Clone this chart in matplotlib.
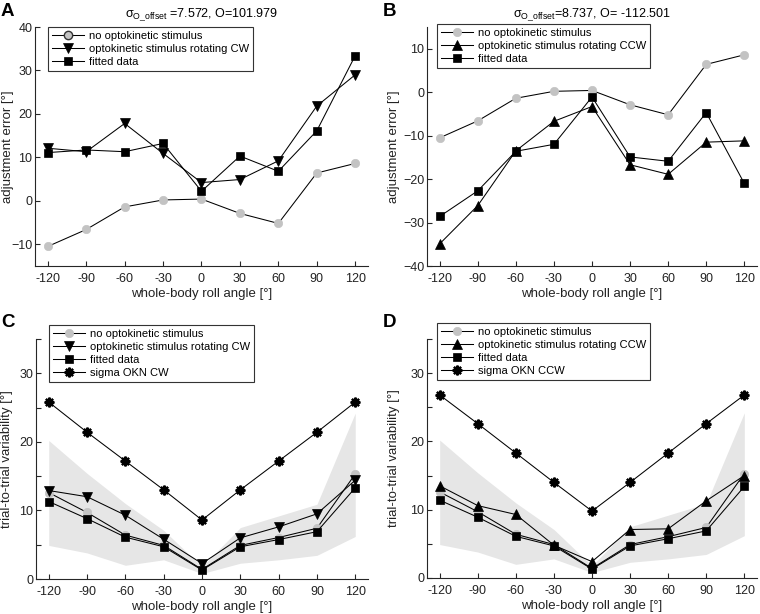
import matplotlib
matplotlib.use("Agg")
import matplotlib.pyplot as plt
from matplotlib.lines import Line2D

plt.rcParams['font.family'] = ['Liberation Sans', 'DejaVu Sans']
plt.rcParams['mathtext.fontset'] = 'custom'
plt.rcParams['mathtext.rm'] = 'Liberation Sans'
plt.rcParams['mathtext.it'] = 'Liberation Sans'

# ---------------- data ----------------
angles = [-120, -90, -60, -30, 0, 30, 60, 90, 120]

# panel A / B : adjustment error
no_okn_err = [-10.5, -6.6, -1.4, 0.2, 0.4, -2.9, -5.2, 6.4, 8.6]
cw_err = [12.1, 11.3, 17.8, 10.9, 4.2, 4.9, 9.2, 21.8, 29.0]
cw_fit_err = [11.1, 11.7, 11.3, 13.2, 2.2, 10.3, 6.8, 16.1, 33.4]
ccw_err = [-34.9, -26.1, -13.5, -6.7, -3.3, -16.7, -18.9, -11.5, -11.2]
ccw_fit_err = [-28.6, -22.7, -13.6, -12.0, -1.1, -14.9, -15.9, -4.7, -21.0]

title_a = r'$\sigma_{\mathrm{O\_offset}}$ =7.572, O=101.979'
title_b = r'$\sigma_{\mathrm{O\_offset}}$=8.737, O= -112.501'

# panel C / D : trial-to-trial variability
no_okn_var = [12.6, 9.7, 6.4, 4.9, 1.4, 4.9, 6.05, 7.4, 15.3]
band_upper = [20.2, 15.4, 11.0, 7.1, 1.8, 7.5, 9.2, 10.9, 24.2]
band_lower = [4.9, 3.8, 2.0, 2.8, 0.8, 2.3, 2.8, 3.45, 6.2]
cw_var = [12.9, 12.0, 9.3, 5.8, 2.25, 6.0, 7.6, 9.5, 14.4]
cw_fit_var = [11.3, 8.8, 6.1, 4.7, 1.3, 4.7, 5.75, 6.9, 13.3]
sigma_cw = [25.8, 21.4, 17.2, 13.0, 8.6, 13.0, 17.2, 21.4, 25.8]
ccw_var = [13.5, 10.6, 9.3, 4.8, 2.4, 7.1, 7.2, 11.3, 15.0]
ccw_fit_var = [11.4, 8.9, 6.1, 4.7, 1.3, 4.7, 5.75, 6.9, 13.4]
sigma_ccw = [26.8, 22.6, 18.3, 14.0, 9.8, 14.0, 18.3, 22.6, 26.8]

labels_cw = ['no optokinetic stimulus', 'optokinetic stimulus rotating CW',
             'fitted data', 'sigma OKN CW']
labels_ccw = ['no optokinetic stimulus', 'optokinetic stimulus rotating CCW',
              'fitted data', 'sigma OKN CCW']

# ---------------- style ----------------
W, H = 760, 614
fig = plt.figure(figsize=(W / 100, H / 100), dpi=100)
AX_COL = '#262626'
GRAY = '#c3c3c3'
BAND = '#e6e6e6'
LW = 0.75

def box(l, r, t, b):
    return [l / W, 1 - b / H, (r - l) / W, (b - t) / H]

def style_axes(ax, ylim, yticks, ylabel, ylab_right_px, left_px, width_px, yticklabels=None):
    ax.set_xlim(-130, 130)
    ax.set_ylim(*ylim)
    ax.set_xticks(angles)
    ax.set_xticklabels([str(a) for a in angles])
    ax.set_yticks(yticks)
    if yticklabels is not None:
        ax.set_yticklabels(yticklabels)
    for s in ['top', 'right']:
        ax.spines[s].set_visible(False)
    for s in ['left', 'bottom']:
        ax.spines[s].set_color(AX_COL)
        ax.spines[s].set_linewidth(0.8)
    ax.tick_params(direction='in', length=3.5, width=0.8, colors=AX_COL,
                   labelsize=9, labelcolor='#222222')
    ax.tick_params(axis='x', pad=5)
    ax.tick_params(axis='y', pad=2)
    ax.set_xlabel('whole-body roll angle [°]', fontsize=9.5, color='#222222', labelpad=2)
    ax.set_ylabel(ylabel, fontsize=9.5, color='#222222')
    ax.yaxis.set_label_coords((ylab_right_px - left_px) / width_px, 0.5)

def leg(ax, handles, labels, x, y):
    lg = ax.legend(handles, labels, loc='upper left',
                   bbox_to_anchor=(x / W, 1 - y / H), bbox_transform=fig.transFigure,
                   fontsize=8, frameon=True, fancybox=False, framealpha=1,
                   edgecolor='#333333', handlelength=2.9, handletextpad=0.4,
                   borderpad=0.35, labelspacing=0.28, borderaxespad=0)
    lg.get_frame().set_linewidth(0.8)
    return lg

def series(ax, y, marker, mfc, mec, ms, mew=0.5):
    return ax.plot(angles, y, color='black', lw=LW, marker=marker, ms=ms,
                   mfc=mfc, mec=mec, mew=mew)[0]

# ---------------- panel A ----------------
axA = fig.add_axes(box(35, 368, 27, 266))
style_axes(axA, (-15, 40), [-10, 0, 10, 20, 30, 40], 'adjustment error [°]', 14, 35, 333)
h0 = series(axA, no_okn_err, 'o', GRAY, GRAY, 6)
h1 = series(axA, cw_err, 'v', 'black', 'black', 7.5)
h2 = series(axA, cw_fit_err, 's', 'black', 'black', 5.5)
h0p = Line2D([], [], color='black', lw=LW, marker='o', ms=6, mfc=GRAY, mec='#333333', mew=1)
leg(axA, [h0p, h1, h2], labels_cw[:3], 48, 27)
axA.set_title(title_a, fontsize=9, pad=7)

# ---------------- panel B ----------------
axB = fig.add_axes(box(427, 757, 27, 266))
style_axes(axB, (-40, 15), [-40, -30, -20, -10, 0, 10], 'adjustment error [°]', 400, 427, 330)
g0 = series(axB, no_okn_err, 'o', GRAY, GRAY, 6)
g1 = series(axB, ccw_err, '^', 'black', 'black', 7.5)
g2 = series(axB, ccw_fit_err, 's', 'black', 'black', 5.5)
leg(axB, [g0, g1, g2], labels_ccw[:3], 437, 24)
axB.set_title(title_b, fontsize=9, pad=7)

# ---------------- panel C ----------------
var_ticks = [0, 5, 10, 15, 20, 25, 30, 35]
var_labels = ['0', '', '10', '', '20', '', '30', '']
axC = fig.add_axes(box(36, 368, 339, 579))
style_axes(axC, (0, 35), var_ticks, 'trial-to-trial variability [°]', 13, 36, 332, var_labels)
axC.fill_between(angles, band_lower, band_upper, color=BAND, lw=0, zorder=0)
c0 = series(axC, no_okn_var, 'o', GRAY, GRAY, 6)
c1 = series(axC, cw_var, 'v', 'black', 'black', 7.5)
c2 = series(axC, cw_fit_var, 's', 'black', 'black', 5.5)
c3 = series(axC, sigma_cw, (8, 2, 0), 'black', 'black', 7, mew=1.6)
leg(axC, [c0, c1, c2, c3], labels_cw, 49, 325)

# ---------------- panel D ----------------
axD = fig.add_axes(box(427, 757, 339, 578))
style_axes(axD, (0, 35), var_ticks, 'trial-to-trial variability [°]', 400, 427, 330, var_labels)
axD.fill_between(angles, band_lower, band_upper, color=BAND, lw=0, zorder=0)
d0 = series(axD, no_okn_var, 'o', GRAY, GRAY, 6)
d1 = series(axD, ccw_var, '^', 'black', 'black', 7.5)
d2 = series(axD, ccw_fit_var, 's', 'black', 'black', 5.5)
d3 = series(axD, sigma_ccw, (8, 2, 0), 'black', 'black', 7, mew=1.6)
leg(axD, [d0, d1, d2, d3], labels_ccw, 437, 323)

# ---------------- panel letters ----------------
for lab, x, y in [('A', 1, 3), ('B', 383, 3), ('C', 1, 314), ('D', 383, 314)]:
    fig.text(x / W, 1 - y / H, lab, fontsize=13.5, fontweight='bold', va='top', ha='left')

fig.savefig('out.png', dpi=100)
